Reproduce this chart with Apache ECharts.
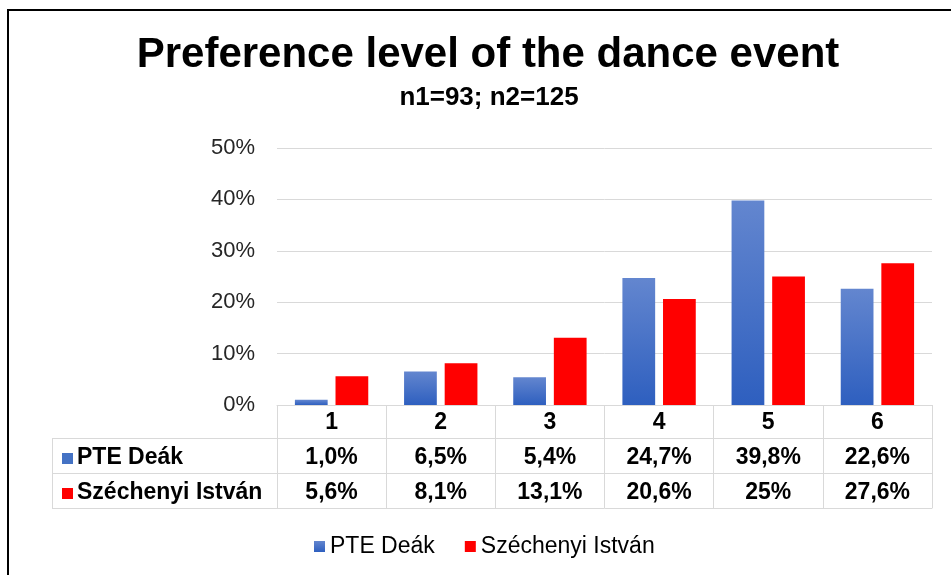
<!DOCTYPE html>
<html>
<head>
<meta charset="utf-8">
<script src="https://cdn.jsdelivr.net/npm/echarts@6/dist/echarts.min.js"></script>
<style>html,body{margin:0;padding:0;background:#fff}#c{width:951px;height:575px}</style>
</head>
<body>
<div id="c"></div>
<script>
var categories = ['1', '2', '3', '4', '5', '6'];
var seriesNames = ['PTE Deák', 'Széchenyi István'];
var pteValues = [1.0, 6.5, 5.4, 24.7, 39.8, 22.6];
var szeValues = [5.6, 8.1, 13.1, 20.6, 25, 27.6];
var pteLabels = ['1,0%', '6,5%', '5,4%', '24,7%', '39,8%', '22,6%'];
var szeLabels = ['5,6%', '8,1%', '13,1%', '20,6%', '25%', '27,6%'];
var yTicks = [0, 10, 20, 30, 40, 50];
var titleText = 'Preference level of the dance event';
var subtitleText = 'n1=93; n2=125';

var FONT = 'Liberation Sans, Arial, sans-serif';
var GRIDC = '#d9d9d9';
var blue = new echarts.graphic.LinearGradient(0, 0, 0, 1, [
  {offset: 0, color: '#6386cf'}, {offset: 1, color: '#2e5fbf'}
]);
var blueSolid = '#4472c4';
var red = '#ff0000';

var chart = echarts.init(document.getElementById('c'), null, {renderer: 'canvas'});

function tableAxis(data, offset, tickLen, margin, showLabel) {
  return {
    type: 'category', gridIndex: 0, position: 'bottom', offset: offset, data: data,
    axisLine: {show: true, lineStyle: {color: GRIDC, width: 1}},
    axisTick: {show: tickLen > 0, length: tickLen, lineStyle: {color: GRIDC, width: 1}},
    axisLabel: {show: showLabel, margin: margin, fontFamily: FONT, fontSize: 23, fontWeight: 'bold', color: '#000', lineHeight: 23},
    splitLine: {show: false}
  };
}

var option = {
  animation: false,
  backgroundColor: '#fff',
  legend: {
    left: 309, top: 530, itemWidth: 11, itemHeight: 11, itemGap: 30, icon: 'rect',
    data: seriesNames,
    textStyle: {fontFamily: FONT, fontSize: 23, color: '#000'}
  },
  grid: {left: 277, right: 19, top: 148, bottom: 170, containLabel: false},
  xAxis: [
    tableAxis(categories, 0, 33, 6, true),
    tableAxis(pteLabels, 33, 35, 8, true),
    tableAxis(szeLabels, 68, 35, 8, true),
    tableAxis(categories, 103, 0, 0, false)
  ],
  yAxis: {
    type: 'value', min: yTicks[0], max: yTicks[yTicks.length - 1], interval: 10,
    axisLine: {show: false}, axisTick: {show: false},
    axisLabel: {formatter: '{value}%', fontFamily: FONT, fontSize: 22, color: '#262626', margin: 22},
    splitLine: {lineStyle: {color: GRIDC, width: 1}}
  },
  series: [
    {name: seriesNames[0], type: 'bar', xAxisIndex: 0, data: pteValues, barWidth: '30%', barGap: '24%',
     itemStyle: {color: blue}},
    {name: seriesNames[1], type: 'bar', xAxisIndex: 0, data: szeValues, barWidth: '30%', barGap: '24%',
     itemStyle: {color: red}}
  ],
  graphic: [
    {type: 'text', x: 488, y: 55, style: {text: titleText, font: 'bold 42px ' + FONT, fill: '#000', align: 'center', verticalAlign: 'middle'}},
    {type: 'text', x: 489, y: 98, style: {text: subtitleText, font: 'bold 26px ' + FONT, fill: '#000', align: 'center', verticalAlign: 'middle'}},
    {type: 'line', shape: {x1: 7, y1: 10, x2: 951, y2: 10}, style: {stroke: '#000', lineWidth: 2}},
    {type: 'line', shape: {x1: 8, y1: 10, x2: 8, y2: 575}, style: {stroke: '#000', lineWidth: 2}},
    {type: 'line', shape: {x1: 52, y1: 438.5, x2: 277, y2: 438.5}, style: {stroke: GRIDC, lineWidth: 1}},
    {type: 'line', shape: {x1: 52, y1: 473.5, x2: 277, y2: 473.5}, style: {stroke: GRIDC, lineWidth: 1}},
    {type: 'line', shape: {x1: 52, y1: 508.5, x2: 277, y2: 508.5}, style: {stroke: GRIDC, lineWidth: 1}},
    {type: 'line', shape: {x1: 52.5, y1: 438, x2: 52.5, y2: 508}, style: {stroke: GRIDC, lineWidth: 1}},
    {type: 'rect', shape: {x: 62, y: 453, width: 11, height: 11}, style: {fill: blueSolid}},
    {type: 'text', x: 77, y: 458, style: {text: seriesNames[0], font: 'bold 23px ' + FONT, fill: '#000', verticalAlign: 'middle'}},
    {type: 'rect', shape: {x: 62, y: 488, width: 11, height: 11}, style: {fill: red}},
    {type: 'text', x: 77, y: 493, style: {text: seriesNames[1], font: 'bold 23px ' + FONT, fill: '#000', verticalAlign: 'middle'}}
  ]
};
chart.setOption(option);
</script>
</body>
</html>
